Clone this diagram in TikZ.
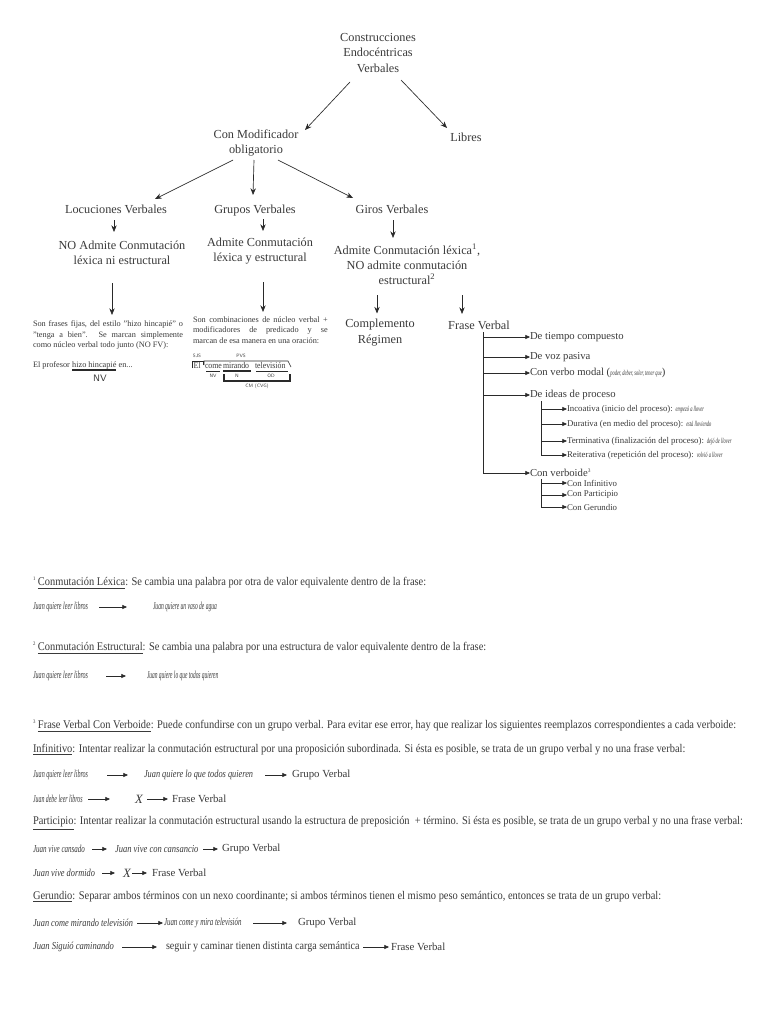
\documentclass[tikz,border=0pt]{standalone}
\usepackage{graphicx}
\usepackage{fontspec}
\setmainfont{Liberation Serif}
\newfontfamily\condfont[FakeStretch=0.89]{Liberation Serif}
\newfontfamily\exfont[FakeStretch=0.6]{Liberation Serif}
\usetikzlibrary{arrows.meta,calc}
\definecolor{ink}{HTML}{3A3A3A}
\definecolor{lin}{HTML}{2A2A2A}
\tikzset{
  every node/.style={text=ink, inner sep=0pt, outer sep=0pt},
  head/.style={font=\fontsize{9.2}{11.4}\selectfont, align=center},
  br/.style={font=\fontsize{8}{9.6}\selectfont, anchor=west},
  sub/.style={font=\fontsize{6.6}{8}\selectfont, anchor=west},
  para/.style={font=\fontsize{6.2}{7.9}\selectfont, anchor=west, align=left},
  expl/.style={font=\condfont\fontsize{6.6}{7.9}\selectfont, anchor=base west},
  fnote/.style={font=\condfont\fontsize{8.8}{10}\selectfont, anchor=west},
  ex/.style={font=\exfont\itshape\fontsize{8}{9}\selectfont, anchor=west},
  res/.style={font=\fontsize{8.1}{10}\selectfont, anchor=west},
  tinylab/.style={font=\sffamily\fontsize{3.6}{4}\selectfont},
  arr/.style={draw=lin, line width=0.5pt, -{Stealth[length=5pt,width=4pt]}},
  tarr/.style={draw=lin, line width=0.5pt, -{Triangle[length=3.5pt,width=3pt]}},
  trunk/.style={draw=lin, line width=0.5pt},
  brk/.style={draw=lin, line width=0.5pt},
}
\newcommand{\smit}[1]{{\exfont\itshape\fontsize{5.6}{6}\selectfont #1}}
\newcommand{\exs}[2]{\scalebox{#1}[1]{#2}}
\begin{document}
\begin{tikzpicture}[x=0.75pt,y=-0.75pt]
\path[use as bounding box, fill=white] (0,0) rectangle (768,1024);

% ---------- top tree ----------
\node[head] (root) at (378,53) {Construcciones\\Endocéntricas\\Verbales};
\node[head] (conmod) at (256,143) {Con Modificador\\obligatorio};
\node[head, anchor=base] (libres) at (466,141) {Libres};
\node[head, anchor=base] (loc) at (116,213) {Locuciones Verbales};
\node[head, anchor=base] (gru) at (255,213) {Grupos Verbales};
\node[head, anchor=base] (gir) at (392,213) {Giros Verbales};
\node[head] (noad) at (122,253) {NO Admite Conmutación\\léxica ni estructural};
\node[head] (adm) at (260,251) {Admite Conmutación\\léxica y estructural};
\node[head] (adml) at (407,264) {Admite Conmutación léxica\textsuperscript{1},\\NO admite conmutación\\estructural\textsuperscript{2}};

\draw[arr] ($(root)+(-28,29)$) -- ($(conmod)+(49,-13)$);
\draw[arr] ($(root)+(23,27)$) -- ($(libres.base)+(-19,-13)$);
\draw[arr] ($(conmod)+(-23,17)$) -- ($(loc.base)+(39,-14)$);
\draw[arr] ($(conmod)+(-2,17)$) -- ($(gru.base)+(-2,-18)$);
\draw[arr] ($(conmod)+(22,17)$) -- ($(gir.base)+(-39,-15)$);
\draw[arr] ($(loc.base)+(-2,7)$) -- ($(noad)+(-8,-21)$);
\draw[arr] ($(gru.base)+(8,6)$) -- ($(adm)+(3,-20)$);
\draw[arr] ($(gir.base)+(1,7)$) -- ($(adml)+(-14,-26)$);

% ---------- left column ----------
\node[para] (p1) at (33,335) {\makebox[112.5pt][s]{Son frases fijas, del estilo "hizo hincapié" o}\\\makebox[112.5pt][s]{"tenga a bien". Se marcan simplemente}\\como núcleo verbal todo junto (NO FV):};
\draw[arr] ($(noad)+(-10,30)$) -- ($(p1.west)+(79,-20)$);
\node[para, anchor=base west] (ep1) at (33,367) {El profesor};
\node[para, anchor=base west] (hh) at ($(ep1.base east)+(2.2,0)$) {hizo hincapié};
\node[para, anchor=base west] (en) at ($(hh.base east)+(2.2,0)$) {en...};
\draw[draw=lin, line width=1pt] ($(hh.base west)+(0,3)$) -- ($(hh.base east)+(0,3)$);
\node[font=\sffamily\fontsize{7}{8}\selectfont] (nv) at (100,378) {NV};

% ---------- middle column ----------
\node[para] (p2) at (193,330) {\makebox[101pt][s]{Son combinaciones de núcleo verbal +}\\\makebox[101pt][s]{modificadores de predicado y se}\\marcan de esa manera en una oración:};
\draw[arr] ($(adm)+(3,31)$) -- ($(p2.west)+(70,-18)$);
\node[expl] (el) at (193.5,368) {El};
\node[expl] (come) at (205,368) {come};
\node[expl] (mir) at (223,368) {mirando};
\node[expl] (tel) at (255,368) {televisión};
\draw[brk] (192,368) -- (192,361) -- (203,361) -- (203,365);
\draw[brk] (204,365) -- (204,361) -- (288,361) -- (291,367);
\node[tinylab] (sjs) at (197,356) {SJS};
\node[tinylab] (pvs) at (241,356) {PVS};
\draw[brk] (206,371) -- (220,371);
\draw[draw=lin, line width=1.1pt] (223,371) -- (251,371);
\draw[brk] (256,371) -- (288,371);
\node[tinylab] (nvb) at (213,375.5) {NV};
\node[tinylab] (nn) at (237,375.5) {N};
\node[tinylab] (od) at (271,375.5) {OD};
\draw[draw=lin, line width=0.9pt] (224,374) -- (224,381) -- (290,381) -- (290,374);
\node[tinylab] (cm) at (257,386) {CM (CVG)};

% ---------- right column ----------
\node[head] (comp) at (380,332.5) {Complemento\\Régimen};
\node[head, anchor=base] (fv) at (479,329) {Frase Verbal};
\draw[arr] ($(adml)+(-30,31)$) -- ($(comp)+(-3,-19)$);
\draw[arr] ($(adml)+(55,31)$) -- ($(fv.base)+(-17,-15)$);

\coordinate (t0) at (483,332);
\coordinate (b1) at (483,337);
\coordinate (b2) at (483,357);
\coordinate (b3) at (483,373);
\coordinate (b4) at (483,395);
\coordinate (b5) at (483,473);
\draw[trunk] (t0) -- (b5);
\node[br] (i1) at (530,337) {De tiempo compuesto};
\node[br] (i2) at (530,357) {De voz pasiva};
\node[br] (i3) at (530,373) {Con verbo modal (\smit{poder, deber, soler, tener que})};
\node[br] (i4) at (530,395) {De ideas de proceso};
\node[br] (i5) at (530,473) {Con verboide\textsuperscript{\fontsize{4}{4}\selectfont 3}};
\foreach \k in {1,...,5} { \draw[tarr] (b\k) -- (i\k.west); }

\coordinate (s0) at (541,401);
\coordinate (c1) at (541,409);
\coordinate (c2) at (541,424);
\coordinate (c3) at (541,441);
\coordinate (c4) at (541,455);
\draw[trunk] (s0) -- (c4);
\node[sub] (s1) at (567,409) {Incoativa (inicio del proceso): \smit{empezó a llover}};
\node[sub] (s2) at (567,424) {Durativa (en medio del proceso): \smit{está lloviendo}};
\node[sub] (s3) at (567,441) {Terminativa (finalización del proceso): \smit{dejó de llover}};
\node[sub] (s4) at (567,455) {Reiterativa (repetición del proceso): \smit{volvió a llover}};
\foreach \k in {1,...,4} { \draw[tarr] (c\k) -- (s\k.west); }

\coordinate (w0) at (541,479);
\coordinate (d1) at (541,483);
\coordinate (d2) at (541,495);
\coordinate (d3) at (541,507);
\draw[trunk] (w0) -- (d3);
\node[sub] (v1) at (567,483) {Con Infinitivo};
\node[sub] (v2) at (567,495) {Con Participio};
\node[sub] (v3) at (567,507) {Con Gerundio};
\foreach \k in {1,...,3} { \draw[tarr] (d\k) -- (v\k.west); }

% ---------- footnotes ----------
\node[fnote] (f1) at (33,583) {\textsuperscript{\fontsize{4}{4}\selectfont 1}\,\underline{Conmutación Léxica}: Se cambia una palabra por otra de valor equivalente dentro de la frase:};
\node[ex] (e1a) at (33,607) {\exs{0.95}{Juan quiere leer libros}};
\node[ex] (e1b) at (153,607) {\exs{0.87}{Juan quiere un vaso de agua}};
\draw[tarr] ($(e1b.west)+(-54,0)$) -- ($(e1b.west)+(-26,0)$);

\node[fnote] (f2) at (33,648) {\textsuperscript{\fontsize{4}{4}\selectfont 2}\,\underline{Conmutación Estructural}: Se cambia una palabra por una estructura de valor equivalente dentro de la frase:};
\node[ex] (e2a) at (33,676) {\exs{0.95}{Juan quiere leer libros}};
\node[ex] (e2b) at (147,676) {\exs{0.85}{Juan quiere lo que todos quieren}};
\draw[tarr] ($(e2b.west)+(-41,0)$) -- ($(e2b.west)+(-21,0)$);

\node[fnote] (f3) at (33,726) {\textsuperscript{\fontsize{4}{4}\selectfont 3}\,\underline{Frase Verbal Con Verboide}: Puede confundirse con un grupo verbal. Para evitar ese error, hay que realizar los siguientes reemplazos correspondientes a cada verboide:};
\node[fnote] (f4) at (33,750) {\underline{Infinitivo}: Intentar realizar la conmutación estructural por una proposición subordinada. Si ésta es posible, se trata de un grupo verbal y no una frase verbal:};
\node[ex] (g1) at (33,775) {\exs{0.95}{Juan quiere leer libros}};
\node[ex] (g2) at (144,775) {\exs{1.3}{Juan quiere lo que todos quieren}};
\node[res] (g3) at (292,775) {Grupo Verbal};
\draw[tarr] ($(g2.west)+(-37,0)$) -- ($(g2.west)+(-16,0)$);
\draw[tarr] ($(g3.west)+(-27,0)$) -- ($(g3.west)+(-5,0)$);

\node[ex] (h1) at (33,799) {\exs{0.92}{Juan debe leer libros}};
\node[res, font=\fontsize{9.5}{10}\selectfont\itshape] (h2) at (135,799) {X};
\node[res] (h3) at (172,799) {Frase Verbal};
\draw[tarr] ($(h2.west)+(-47,0)$) -- ($(h2.west)+(-25,0)$);
\draw[tarr] ($(h3.west)+(-25,0)$) -- ($(h3.west)+(-4,0)$);

\node[fnote] (f5) at (33,823) {\underline{Participio}: Intentar realizar la conmutación estructural usando la estructura de preposición \ + término. Si ésta es posible, se trata de un grupo verbal y no una frase verbal:};
\node[ex] (j1) at (33,849) {\exs{1.1}{Juan vive cansado}};
\node[ex] (j2) at (115,849) {\exs{1.33}{Juan vive con cansancio}};
\node[res] (j3) at (222,849) {Grupo Verbal};
\draw[tarr] ($(j2.west)+(-23,0)$) -- ($(j2.west)+(-8,0)$);
\draw[tarr] ($(j3.west)+(-19,0)$) -- ($(j3.west)+(-4,0)$);

\node[ex] (k1) at (33,873) {\exs{1.3}{Juan vive dormido}};
\node[res, font=\fontsize{9.5}{10}\selectfont\itshape] (k2) at (123,873) {X};
\node[res] (k3) at (152,873) {Frase Verbal};
\draw[tarr] ($(k2.west)+(-21,0)$) -- ($(k2.west)+(-8,0)$);
\draw[tarr] ($(k3.west)+(-20,0)$) -- ($(k3.west)+(-5,0)$);

\node[fnote] (f6) at (33,897) {\underline{Gerundio}: Separar ambos términos con un nexo coordinante; si ambos términos tienen el mismo peso semántico, entonces se trata de un grupo verbal:};
\node[ex] (m1) at (33,923) {\exs{1.3}{Juan come mirando televisión}};
\node[ex] (m2) at (164,923) {\exs{1.08}{Juan come y mira televisión}};
\node[res] (m3) at (298,923) {Grupo Verbal};
\draw[tarr] ($(m2.west)+(-27,0)$) -- ($(m2.west)+(-1,0)$);
\draw[tarr] ($(m3.west)+(-45,0)$) -- ($(m3.west)+(-11,0)$);

\node[ex] (n1) at (33,947) {\exs{1.34}{Juan Siguió caminando}};
\node[fnote, font=\condfont\fontsize{8.5}{10}\selectfont] (n2) at (166,947) {seguir y caminar tienen distinta carga semántica};
\node[res] (n3) at (391,947) {Frase Verbal};
\draw[tarr] ($(n2.west)+(-44,0)$) -- ($(n2.west)+(-9,0)$);
\draw[tarr] ($(n3.west)+(-28,0)$) -- ($(n3.west)+(-2,0)$);
\end{tikzpicture}
\end{document}
